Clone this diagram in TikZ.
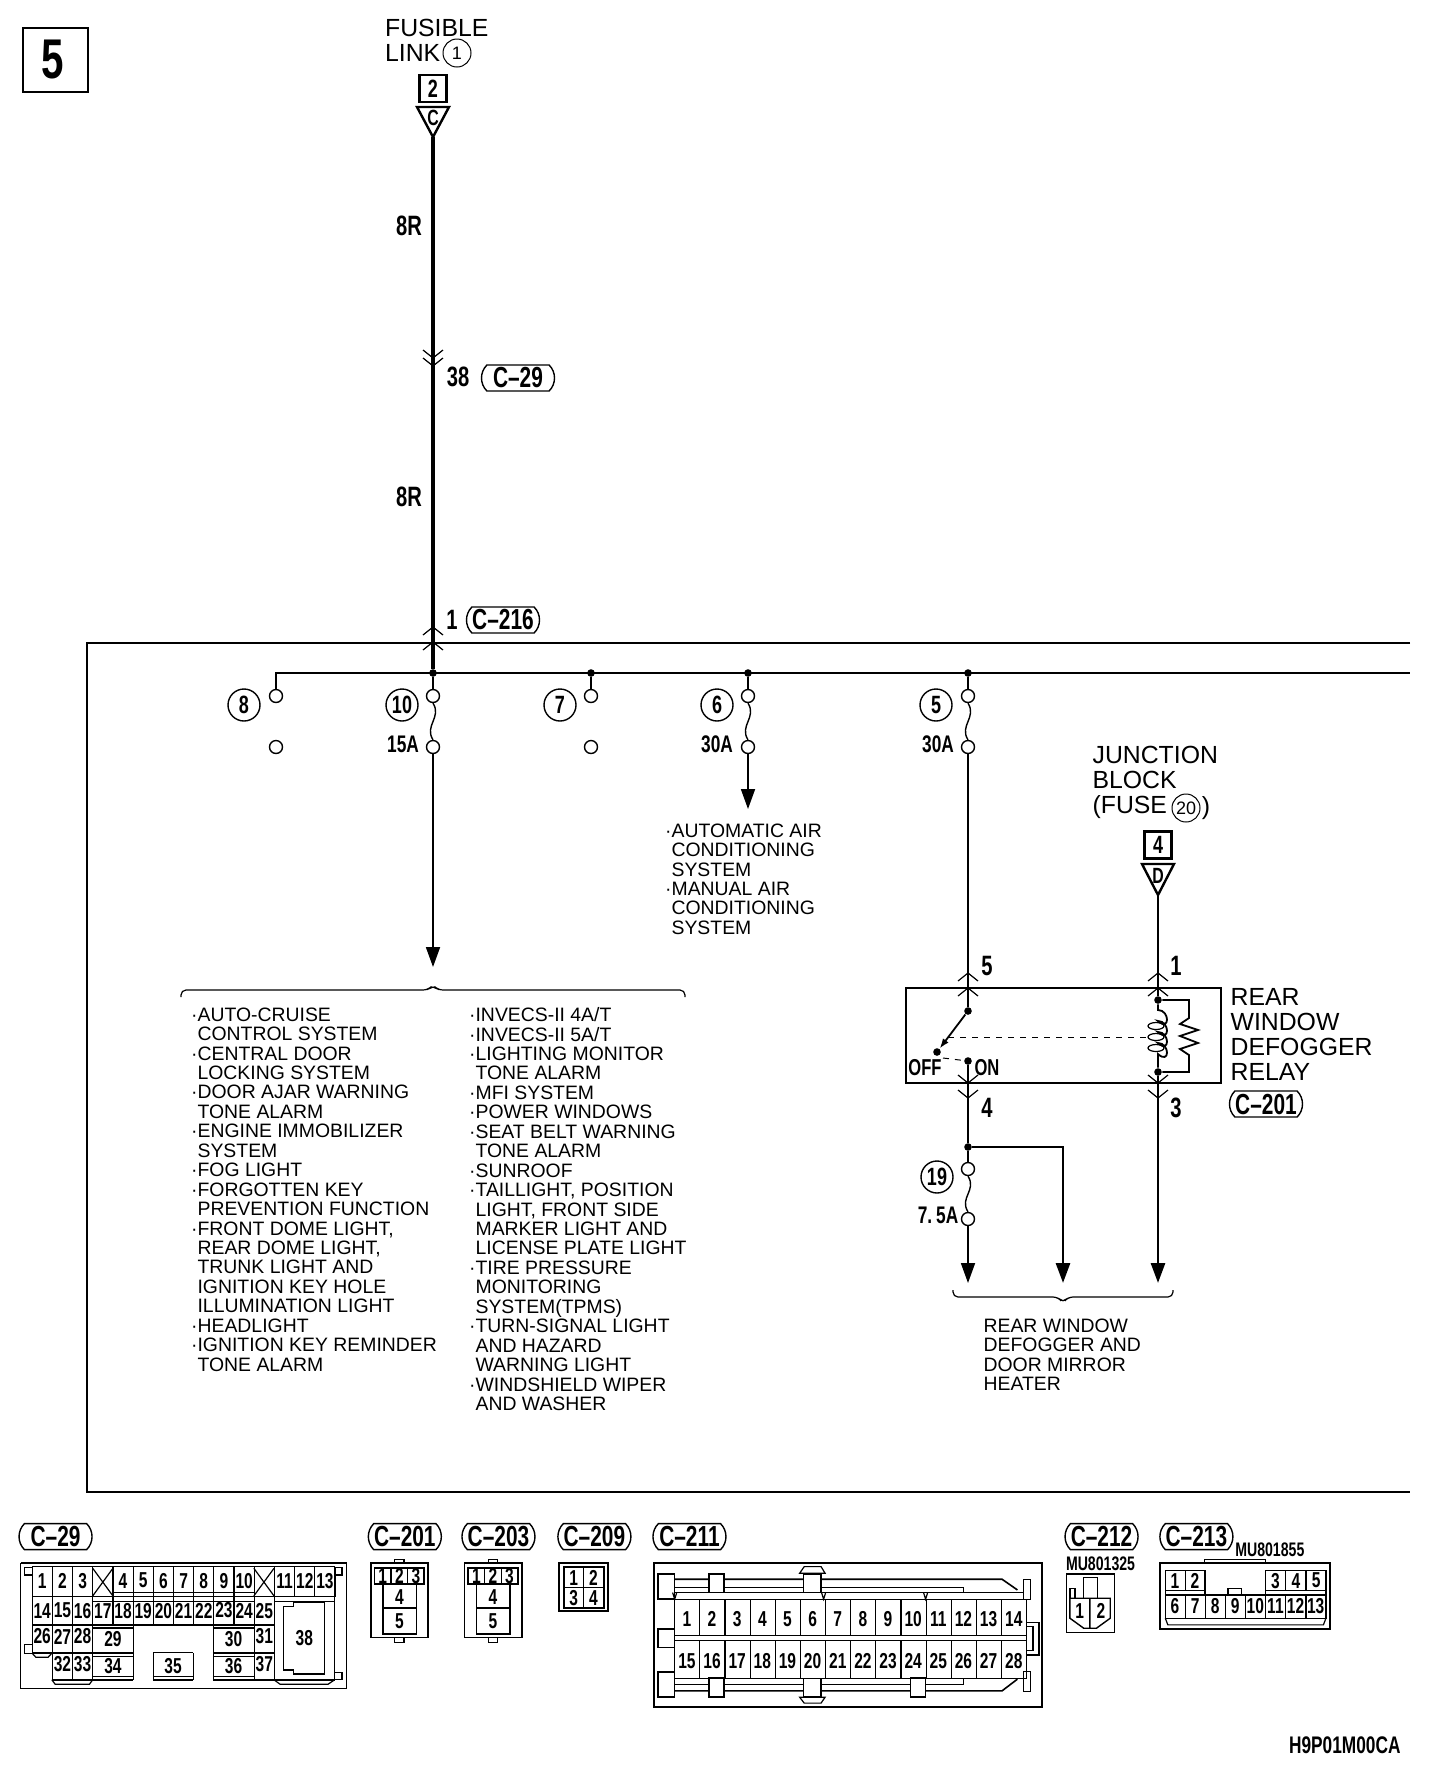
\documentclass[tikz,border=0pt]{standalone}
\usepackage{fontspec}
\setmainfont{Liberation Sans}
\newfontfamily\lblfont[FakeStretch=0.72]{Liberation Sans}
\usetikzlibrary{arrows.meta,shapes.misc}
\newcommand{\bul}{\llap{·}}

\begin{document}
\begin{tikzpicture}[x=.5pt,y=-.5pt,line width=.6pt,
  every node/.style={inner sep=0pt},
  listtext/.style={anchor=north west,align=left,font=\fontsize{9.7}{9.72}\selectfont},
  bigtext/.style={anchor=north west,align=left,font=\fontsize{12.4}{12.4}\selectfont},
  wirelab/.style={font=\lblfont\bfseries\fontsize{14}{14}\selectfont},
  amplab/.style={font=\lblfont\bfseries\fontsize{12}{12}\selectfont},
  swlab/.style={font=\lblfont\bfseries\fontsize{11.5}{11.5}\selectfont},
  pinlab/.style={font=\lblfont\bfseries\fontsize{10.8}{10.8}\selectfont},
  badgelab/.style={rounded rectangle,rounded rectangle arc length=90,draw,line width=.7pt,
    minimum width=36.5pt,minimum height=13pt,font=\lblfont\bfseries\fontsize{14.5}{14.5}\selectfont},
  circlab/.style={circle,draw,line width=.7pt,minimum size=16pt,font=\lblfont\bfseries\fontsize{12.5}{12.5}\selectfont},
  smallcirc/.style={circle,draw,line width=.5pt,minimum size=14pt,font=\fontsize{9}{9}\selectfont},
  fuseterm/.style={circle,draw,fill=white,line width=.7pt,minimum size=6.5pt},
  junctdot/.style={circle,fill=black,minimum size=3.8pt},
  mainwire/.style={line width=2.1pt},
  buswire/.style={line width=1.3pt},
  thinwire/.style={line width=.9pt},
  medwire/.style={line width=1.4pt},
  arrowend/.style={-{Triangle[length=10pt,width=7pt]}},
  fusewig/.style={line width=.7pt},
  boxlab/.style={draw,line width=1.2pt,minimum size=13.5pt,font=\lblfont\bfseries\fontsize{12.5}{12.5}\selectfont},
  trilab/.style={font=\lblfont\bfseries\fontsize{11}{11}\selectfont},
  chevup/.pic={\draw[line width=.6pt] (-10,8) -- (0,0) -- (10,8);},
  chevdown/.pic={\draw[line width=.6pt] (-10,-8) -- (0,0) -- (10,-8);}]

  \useasboundingbox (0,0) rectangle (1440,1768);

  % page number box and frame
  \node[draw,line width=1.2pt,minimum width=32.5pt,minimum height=32pt,
    font=\lblfont\bfseries\fontsize{28}{28}\selectfont] (pagebox) at (55.5,60) {\kern-3pt 5};
  \draw (1410,643) -- (87,643) -- (87,1492) -- (1410,1492);

  % source at the top
  \node[bigtext] (fusetxt) at (384.5,19) {FUSIBLE\\LINK};
  \node[smallcirc] (fusecirc) at (457,53) {1};
  \node[boxlab] (box2) at (433,88.5) {2};
  \draw[line width=1.2pt] (417,107) -- (449,107) -- (433,137) -- cycle;
  \coordinate (tipc) at (433,137);
  \node[trilab] (letc) at (433,118) {C};

  \node[wirelab] (w8r1) at (409,226) {8R};
  \node[wirelab] (w8r2) at (409,497) {8R};
  \node[wirelab] (w38) at (458,377) {38};
  \node[badgelab] (bc29top) at (518,378) {C–29};
  \node[wirelab] (w1) at (452,620) {1};
  \node[badgelab] (bc216) at (503,620) {C–216};

  % fuse bus
  \node[junctdot] (j10) at (433,673) {};
  \node[junctdot] (j7) at (591,673) {};
  \node[junctdot] (j6) at (748,673) {};
  \node[junctdot] (j5) at (968,673) {};
  \coordinate (busend) at (1410,673);
  \draw[mainwire] (tipc) -- (j10);
  \path (433,358) pic {chevdown} (433,366) pic {chevdown}
    (433,627) pic {chevup} (433,642) pic {chevup};

  \foreach \name/\xx in {8/276,10/433,7/591,6/748,5/968} {
    \node[fuseterm] (f\name a) at (\xx,696) {};
    \node[fuseterm] (f\name b) at (\xx,747) {};
  }
  \draw[buswire] (f8a) |- (busend);
  \foreach \name in {10,7,6,5}
    \draw[thinwire] (j\name) -- (f\name a);
  \foreach \name in {10,6,5}
    \draw[fusewig] (f\name a.south) .. controls +(9,14) and +(-9,-14) .. (f\name b.north);

  \foreach \name/\xx in {8/244,10/402,7/560,6/717,5/936}
    \node[circlab] (c\name) at (\xx,705) {\name};
  \node[amplab] (a10) at (403,744) {15A};
  \node[amplab] (a6) at (717,744) {30A};
  \node[amplab] (a5) at (938,744) {30A};

  % loads off the bus
  \coordinate (e10) at (433,967);
  \coordinate (e6) at (748,809);
  \draw[thinwire,arrowend] (f10b) -- (e10);
  \draw[thinwire,arrowend] (f6b) -- (e6);

  \node[listtext] (acsys) at (671,823) {\bul AUTOMATIC AIR\\CONDITIONING\\SYSTEM\\\bul MANUAL AIR\\CONDITIONING\\SYSTEM};

  \draw[rounded corners=2.5pt] (181,997) -- (181,990) -- (428,990) -- (433,985) -- (438,990) -- (685,990) -- (685,997);
  \node[listtext] (list1) at (197,1007) {\bul AUTO-CRUISE\\CONTROL SYSTEM\\\bul CENTRAL DOOR\\LOCKING SYSTEM\\\bul DOOR AJAR WARNING\\TONE ALARM\\\bul ENGINE IMMOBILIZER\\SYSTEM\\\bul FOG LIGHT\\\bul FORGOTTEN KEY\\PREVENTION FUNCTION\\\bul FRONT DOME LIGHT,\\REAR DOME LIGHT,\\TRUNK LIGHT AND\\IGNITION KEY HOLE\\ILLUMINATION LIGHT\\\bul HEADLIGHT\\\bul IGNITION KEY REMINDER\\TONE ALARM};
  \node[listtext] (list2) at (475,1007) {\bul INVECS-II 4A/T\\\bul INVECS-II 5A/T\\\bul LIGHTING MONITOR\\TONE ALARM\\\bul MFI SYSTEM\\\bul POWER WINDOWS\\\bul SEAT BELT WARNING\\TONE ALARM\\\bul SUNROOF\\\bul TAILLIGHT, POSITION\\LIGHT, FRONT SIDE\\MARKER LIGHT AND\\LICENSE PLATE LIGHT\\\bul TIRE PRESSURE\\MONITORING\\SYSTEM(TPMS)\\\bul TURN-SIGNAL LIGHT\\AND HAZARD\\WARNING LIGHT\\\bul WINDSHIELD WIPER\\AND WASHER};

  % junction block feed
  \node[bigtext] (jbtxt) at (1092,746) {JUNCTION\\BLOCK\\(FUSE};
  \node[smallcirc] (jbcirc) at (1186,808) {20};
  \node[font=\fontsize{12.4}{12.4}\selectfont] (jbclose) at (1206,808) {)};
  \node[boxlab] (box4) at (1158,845) {4};
  \draw[line width=1.2pt] (1142,864) -- (1174,864) -- (1158,895) -- cycle;
  \coordinate (tipd) at (1158,895);
  \node[trilab] (letd) at (1158,876) {D};

  % relay
  \draw[line width=.6pt] (906,988) rectangle (1221,1083);
  \draw[line width=1.2pt] (906,1083) -- (1221,1083);
  \node[bigtext] (relaytxt) at (1230,988) {REAR\\WINDOW\\DEFOGGER\\RELAY};
  \node[badgelab] (bc201) at (1266,1104) {C–201};
  \foreach \xx in {968,1158} {
    \path (\xx,973) pic {chevup} (\xx,988) pic {chevup}
      (\xx,1083) pic {chevdown} (\xx,1098) pic {chevdown};
  }
  \node[wirelab] (t5) at (987,966) {5};
  \node[wirelab] (t1) at (1176,966) {1};
  \node[wirelab] (t4) at (987,1108) {4};
  \node[wirelab] (t3) at (1176,1108) {3};

  \node[junctdot] (swtop) at (968,1011) {};
  \node[junctdot] (swoff) at (937,1052) {};
  \node[junctdot] (swon) at (968,1061) {};
  \node[junctdot] (rtop) at (1158,1000) {};
  \node[junctdot] (rbot) at (1158,1072) {};
  \node[junctdot] (j19) at (968,1147) {};
  \node[swlab] (toff) at (925,1068) {OFF};
  \node[swlab] (ton) at (987,1068) {ON};

  \draw[thinwire] (f5b) -- (swtop);
  \draw[thinwire,-{Latex[length=5pt,width=3.5pt]}] (swtop) -- (swoff);
  \draw[dashed,line width=.5pt] (943,1058) -- (swon);
  \draw[dashed,line width=.5pt] (948,1037) -- (1150,1037);
  \draw[thinwire] (swon) -- (j19);

  % coil and resistor
  \draw[medwire] (tipd) -- (rtop);
  \draw[thinwire] (rtop) -- +(0,10) .. controls +(12,0) and +(12,11) .. +(0,21)
    .. controls +(12,0) and +(12,11) .. +(0,32)
    .. controls +(12,0) and +(12,11) .. +(0,43)
    .. controls +(12,0) and +(12,11) .. +(0,54) -- (rbot);
  \foreach \yy in {1026,1037,1048}
    \draw[line width=.6pt] (1156,\yy) ellipse [x radius=8,y radius=3.5];
  \draw[thinwire] (rtop) -- (1189,1000) -- (1189,1018) -- (1180,1024) -- (1198,1030) -- (1180,1036)
    -- (1198,1043) -- (1180,1049) -- (1189,1055) -- (1189,1072) -- (rbot);

  % outputs of the relay
  \node[fuseterm] (f19a) at (968,1169) {};
  \node[fuseterm] (f19b) at (968,1219) {};
  \node[circlab] (c19) at (937,1177) {19};
  \node[amplab] (a19) at (938,1215) {7.\,5A};
  \coordinate (out1) at (968,1283);
  \coordinate (out2) at (1063,1283);
  \coordinate (out3) at (1158,1283);
  \draw[thinwire] (j19) -- (f19a);
  \draw[fusewig] (f19a.south) .. controls +(9,14) and +(-9,-14) .. (f19b.north);
  \draw[thinwire,arrowend] (f19b) -- (out1);
  \draw[medwire,arrowend] (j19) -| (out2);
  \draw[medwire,arrowend] (rbot) -- (out3);
  \draw[rounded corners=2.5pt] (953,1290) -- (953,1297) -- (1058,1297) -- (1063,1303) -- (1068,1297) -- (1173,1297) -- (1173,1290);
  \node[listtext] (rearlist) at (983,1318) {REAR WINDOW\\DEFOGGER AND\\DOOR MIRROR\\HEATER};

  % connector C-29
  \begin{scope}[shift={(0,1500)},xscale=.459,yscale=.333]
    \node[badgelab] (b29) at (121,110) {C–29};
    \draw (45,190) rectangle (755,565);
    \draw[line width=1.2pt] (45,190) -- (755,190);
    \foreach \i in {0,...,15} \draw ({70+44*\i},200) -- ({70+44*\i},290);
    \foreach \i in {0,...,12} \draw ({70+44*\i},290) -- ({70+44*\i},375);
    \foreach \i in {0,1,2,3,5,9,11,12} \draw ({70+44*\i},375) -- ({70+44*\i},460);
    \foreach \i in {1,2,3,5,6,8,9,11,12} \draw ({70+44*\i},460) -- ({70+44*\i},540);
    \draw (729,290) -- (729,540);
    \draw (70,200) -- (729,200) (70,290) -- (729,290) (246,278) -- (553,278)
      (202,305) -- (553,305) (597,305) -- (729,305);
    \draw[line width=.9pt] (70,375) -- (597,375) (70,460) -- (289,460) (464,460) -- (597,460)
      (202,385) -- (289,385) (464,385) -- (553,385) (202,470) -- (289,470) (464,470) -- (553,470)
      (333,458) -- (421,458) (113,540) -- (289,540) (333,540) -- (421,540) (464,540) -- (729,540);
    \draw (202,530) -- (289,530) (333,530) -- (421,530) (464,530) -- (553,530);
    \draw (202,205) -- (246,288) (246,205) -- (202,288) (553,205) -- (597,288) (597,205) -- (553,288);
    \draw (53,203) rectangle (70,225) (729,203) rectangle (745,225)
      (53,435) rectangle (70,460) (729,518) rectangle (745,540);
    \draw (70,460) -- (78,472) -- (105,472) -- (113,460) (113,540) -- (120,553) -- (195,553) -- (202,540)
      (597,540) -- (610,553) -- (715,553) -- (729,540);
    \draw[line width=.7pt] (617,320) -- (640,320) -- (640,307) -- (707,307) -- (707,523) -- (640,523) -- (640,510) -- (617,510) -- cycle;
    \foreach \c/\n in {0/1,1/2,2/3,4/4,5/5,6/6,7/7,8/8,9/9,10/10,12/11,13/12,14/13}
      \node[pinlab] (p29-\n) at ({92+44*\c},242) {\n};
    \foreach \c/\n in {0/14,1/15,2/16,3/17,4/18,5/19,6/20,7/21,8/22,9/23,10/24,11/25}
      \node[pinlab] (p29-\n) at ({92+44*\c},332) {\n};
    \foreach \c/\n in {0/26,1/27,2/28,11/31}
      \node[pinlab] (p29-\n) at ({92+44*\c},410) {\n};
    \foreach \c/\n in {1/32,2/33,11/37}
      \node[pinlab] (p29-\n) at ({92+44*\c},492) {\n};
    \node[pinlab] (p29-29) at (246,417) {29};
    \node[pinlab] (p29-30) at (509,417) {30};
    \node[pinlab] (p29-34) at (246,500) {34};
    \node[pinlab] (p29-35) at (377,500) {35};
    \node[pinlab] (p29-36) at (509,500) {36};
    \node[pinlab] (p29-38) at (663,415) {38};

    % connectors C-201 and C-203 are alike
    \foreach \dx/\tag in {0/201,204/203} {
      \node[badgelab] (b\tag) at ({882+\dx},110) {C–\tag};
      \draw[line width=.9pt] ({808+\dx},190) rectangle ({933+\dx},413);
      \draw ({860+\dx},190) -- ({860+\dx},178) -- ({880+\dx},178) -- ({880+\dx},190)
        ({860+\dx},413) -- ({860+\dx},427) -- ({880+\dx},427) -- ({880+\dx},413);
      \draw[line width=.8pt] ({816+\dx},205) rectangle ({924+\dx},252)
        ({834+\dx},252) rectangle ({907+\dx},402) ({834+\dx},325) -- ({907+\dx},325);
      \draw ({852+\dx},205) -- ({852+\dx},252) ({888+\dx},205) -- ({888+\dx},252);
      \node[pinlab] (p\tag-1) at ({834+\dx},228) {1};
      \node[pinlab] (p\tag-2) at ({870+\dx},228) {2};
      \node[pinlab] (p\tag-3) at ({906+\dx},228) {3};
      \node[pinlab] (p\tag-4) at ({870+\dx},290) {4};
      \node[pinlab] (p\tag-5) at ({870+\dx},363) {5};
    }

    % connector C-209
    \node[badgelab] (b209) at (1295,110) {C–209};
    \draw[line width=.9pt] (1218,190) rectangle (1325,333) (1228,200) rectangle (1316,324);
    \draw (1272,200) -- (1272,324) (1228,263) -- (1316,263);
    \node[pinlab] (p209-1) at (1250,235) {1};
    \node[pinlab] (p209-2) at (1293,235) {2};
    \node[pinlab] (p209-3) at (1250,293) {3};
    \node[pinlab] (p209-4) at (1293,293) {4};
  \end{scope}

  % connector C-211
  \begin{scope}[shift={(640,1500)},xscale=.51,yscale=.333]
    \node[badgelab] (b211) at (97,110) {C–211};
    \draw[line width=.9pt] (28,190) rectangle (788,622);
    \draw (68,298) rectangle (758,535) (68,408) -- (758,408) (68,422) -- (758,422);
    \foreach \i in {0,...,14} \draw ({68+49.3*\i},298) -- ({68+49.3*\i},408) ({68+49.3*\i},422) -- ({68+49.3*\i},535);
    \draw[line width=.8pt] (35,222) rectangle (68,297) (35,388) rectangle (68,443) (35,516) rectangle (68,591);
    \draw[line width=.8pt] (68,238) -- (710,238) -- (740,270) (68,573) -- (710,573) -- (740,538);
    \draw (68,262) -- (635,262) -- (635,278) (68,553) -- (635,553) -- (635,535)
      (68,278) -- (750,278);
    \foreach \xx in {68,360,560}
      \draw (\xx-4,278) -- (\xx,298) -- (\xx+4,278);
    \draw[line width=.8pt,fill=white] (135,222) rectangle (165,278) (135,535) rectangle (165,591) (530,535) rectangle (560,591);
    \draw[fill=white] (320,222) rectangle (355,278) (320,535) rectangle (355,590);
    \draw[fill=white] (313,220) -- (322,200) -- (355,200) -- (363,220) -- cycle
      (313,592) -- (322,610) -- (355,610) -- (363,592) -- cycle;
    \draw (752,238) rectangle (765,298) (752,516) rectangle (765,575);
    \draw[line width=.8pt] (758,368) -- (782,368) -- (782,465) -- (758,465) (758,380) -- (770,380) -- (770,452) -- (758,452);
    \foreach \n [count=\c from 0] in {1,...,14}
      \node[pinlab] (p211-\n) at ({92+49.3*\c},358) {\n};
    \foreach \n [count=\c from 0] in {15,...,28}
      \node[pinlab] (p211-\n) at ({92+49.3*\c},483) {\n};

    % connector C-212
    \node[badgelab] (b212) at (905,110) {C–212};
    \node[font=\lblfont\bfseries\fontsize{9.8}{9.8}\selectfont] (mu1) at (903,190) {MU801325};
    \draw (837,222) rectangle (930,397);
    \draw (870,233) rectangle (897,295) (843,265) rectangle (853,295);
    \draw[line width=.7pt] (843,295) -- (922,295) -- (922,355) -- (895,385) -- (870,385) -- (843,355) -- cycle (882,295) -- (882,385);
    \node[pinlab] (p212-1) at (862,333) {1};
    \node[pinlab] (p212-2) at (904,333) {2};

    % connector C-213
    \node[badgelab] (b213) at (1091,110) {C–213};
    \node[font=\lblfont\bfseries\fontsize{9.8}{9.8}\selectfont] (mu2) at (1235,150) {MU801855};
    \draw[line width=.8pt] (1020,190) rectangle (1353,387);
    \draw (1107,190) -- (1107,178) -- (1227,178) -- (1227,190);
    \draw (1030,212) rectangle (1108,272) (1069,212) -- (1069,272)
      (1227,212) rectangle (1345,272) (1266,212) -- (1266,272) (1306,212) -- (1306,272);
    \draw (1030,285) rectangle (1345,355);
    \foreach \i in {1,...,7} \draw ({1030+39.4*\i},285) -- ({1030+39.4*\i},355);
    \draw (1153,285) -- (1153,265) -- (1180,265) -- (1180,285);
    \draw (1030,272) -- (1030,285) (1108,272) -- (1108,285) (1227,272) -- (1227,285) (1345,272) -- (1345,285);
    \draw (1030,355) -- (1035,375) -- (1340,375) -- (1345,355);
    \foreach \n/\xx in {1/1049,2/1088,3/1246,4/1286,5/1326}
      \node[pinlab] (p213-\n) at (\xx,242) {\n};
    \foreach \n [count=\c from 0] in {6,...,13}
      \node[pinlab] (p213-\n) at ({1049+39.4*\c},318) {\n};

    \node[font=\lblfont\bfseries\fontsize{12}{12}\selectfont] (drawno) at (1382,735) {H9P01M00CA};
  \end{scope}
\end{tikzpicture}
\end{document}
